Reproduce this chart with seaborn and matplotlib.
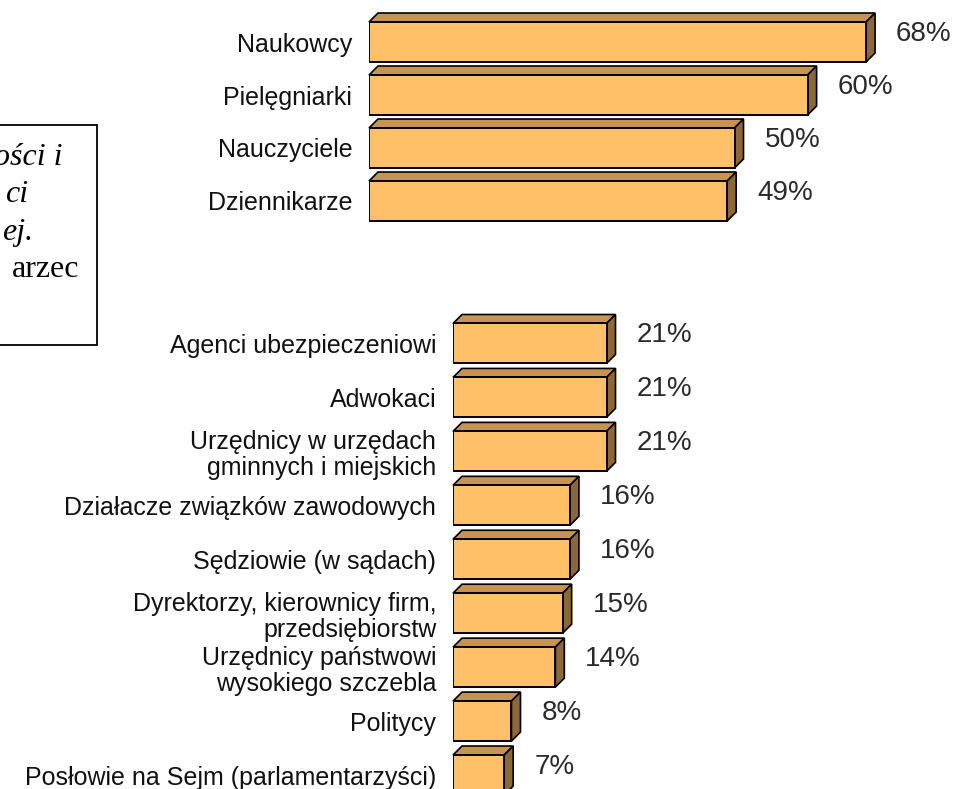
import pandas as pd
import matplotlib.pyplot as plt
import seaborn as sns
from matplotlib.patches import Polygon, Rectangle

# data
top_cats = ['Naukowcy', 'Pielęgniarki', 'Nauczyciele', 'Dziennikarze']
top_vals = [68, 60, 50, 49]

bot_cats = ['Agenci ubezpieczeniowi', 'Adwokaci',
            'Urzędnicy w urzędach\ngminnych i miejskich',
            'Działacze związków zawodowych', 'Sędziowie (w sądach)',
            'Dyrektorzy, kierownicy firm,\nprzedsiębiorstw',
            'Urzędnicy państwowi\nwysokiego szczebla',
            'Politycy', 'Posłowie na Sejm (parlamentarzyści)']
bot_vals = [21, 21, 21, 16, 16, 15, 14, 8, 7]

box_lines = ['ości i', 'ci', 'ej.', 'arzec']

W, H = 957, 789
FRONT = '#FFC068'
TOPC = '#C69354'
SIDE = '#8D6837'
PX_PER_PCT = 7.31
DEPTH = 9

sns.set_style('white')
plt.rcParams['font.family'] = ['Liberation Sans', 'DejaVu Sans']

fig = plt.figure(figsize=(W / 100, H / 100), dpi=100)


def draw_group(cats, vals, left_px, first_center, pitch, xmax):
    top_px = first_center - pitch / 2
    bot_px = first_center + pitch * (len(cats) - 0.5)
    ax = fig.add_axes([left_px / W, 1 - bot_px / H,
                       xmax * PX_PER_PCT / W, (bot_px - top_px) / H])
    df = pd.DataFrame({'cat': cats, 'val': vals})
    sns.barplot(data=df, x='val', y='cat', orient='h', color=FRONT,
                saturation=1, edgecolor='black', linewidth=1.4,
                width=40 / pitch, ax=ax, zorder=3)
    ax.set_xlim(0, xmax)
    ax.set_ylim(len(cats) - 0.5, -0.5)
    dx = DEPTH / PX_PER_PCT
    dy = DEPTH / pitch
    for p in ax.patches:
        x0, x1 = p.get_x(), p.get_x() + p.get_width()
        yt, yb = p.get_y(), p.get_y() + p.get_height()
        topf = Polygon([(x0, yt), (x0 + dx, yt - dy), (x1 + dx, yt - dy), (x1, yt)],
                       closed=True, facecolor=TOPC, edgecolor='black',
                       linewidth=1.2, clip_on=False, zorder=2)
        side = Polygon([(x1, yt), (x1 + dx, yt - dy), (x1 + dx, yb - dy), (x1, yb)],
                       closed=True, facecolor=SIDE, edgecolor='black',
                       linewidth=1.2, clip_on=False, zorder=2)
        ax.add_patch(topf)
        ax.add_patch(side)
    for i, v in enumerate(vals):
        ax.annotate(f'{v}%', xy=(v, i), xytext=(30, 8), textcoords='offset pixels',
                    ha='left', va='center', fontsize=20, color='#2a2a2a')
    ax.set_xlabel('')
    ax.set_ylabel('')
    ax.set_xticks([])
    ax.tick_params(axis='y', length=0, pad=12, labelsize=18, labelcolor='#111111')
    for t in ax.get_yticklabels():
        t.set_linespacing(1.12)
    sns.despine(ax=ax, left=True, bottom=True)
    ax.patch.set_alpha(0)
    return ax


draw_group(top_cats, top_vals, 369, 42, 53, 80)
draw_group(bot_cats, bot_vals, 453, 343.5, 53.94, 60)

# partly visible text box on the left (its text is cut at the page edge)
fig.add_artist(Rectangle((-20 / W, 1 - 345 / H), 117 / W, 220 / H,
                         transform=fig.transFigure, fill=False,
                         edgecolor='black', linewidth=1.3))
box_right = [62, 28, 33, 79]
box_base = [165, 202, 240, 277]
for i, txt in enumerate(box_lines):
    fig.text(box_right[i] / W, 1 - box_base[i] / H, txt, ha='right', va='baseline',
             fontsize=23, family='Liberation Serif',
             style='italic' if i < 3 else 'normal', color='black')

fig.savefig('out.png', dpi=100)
